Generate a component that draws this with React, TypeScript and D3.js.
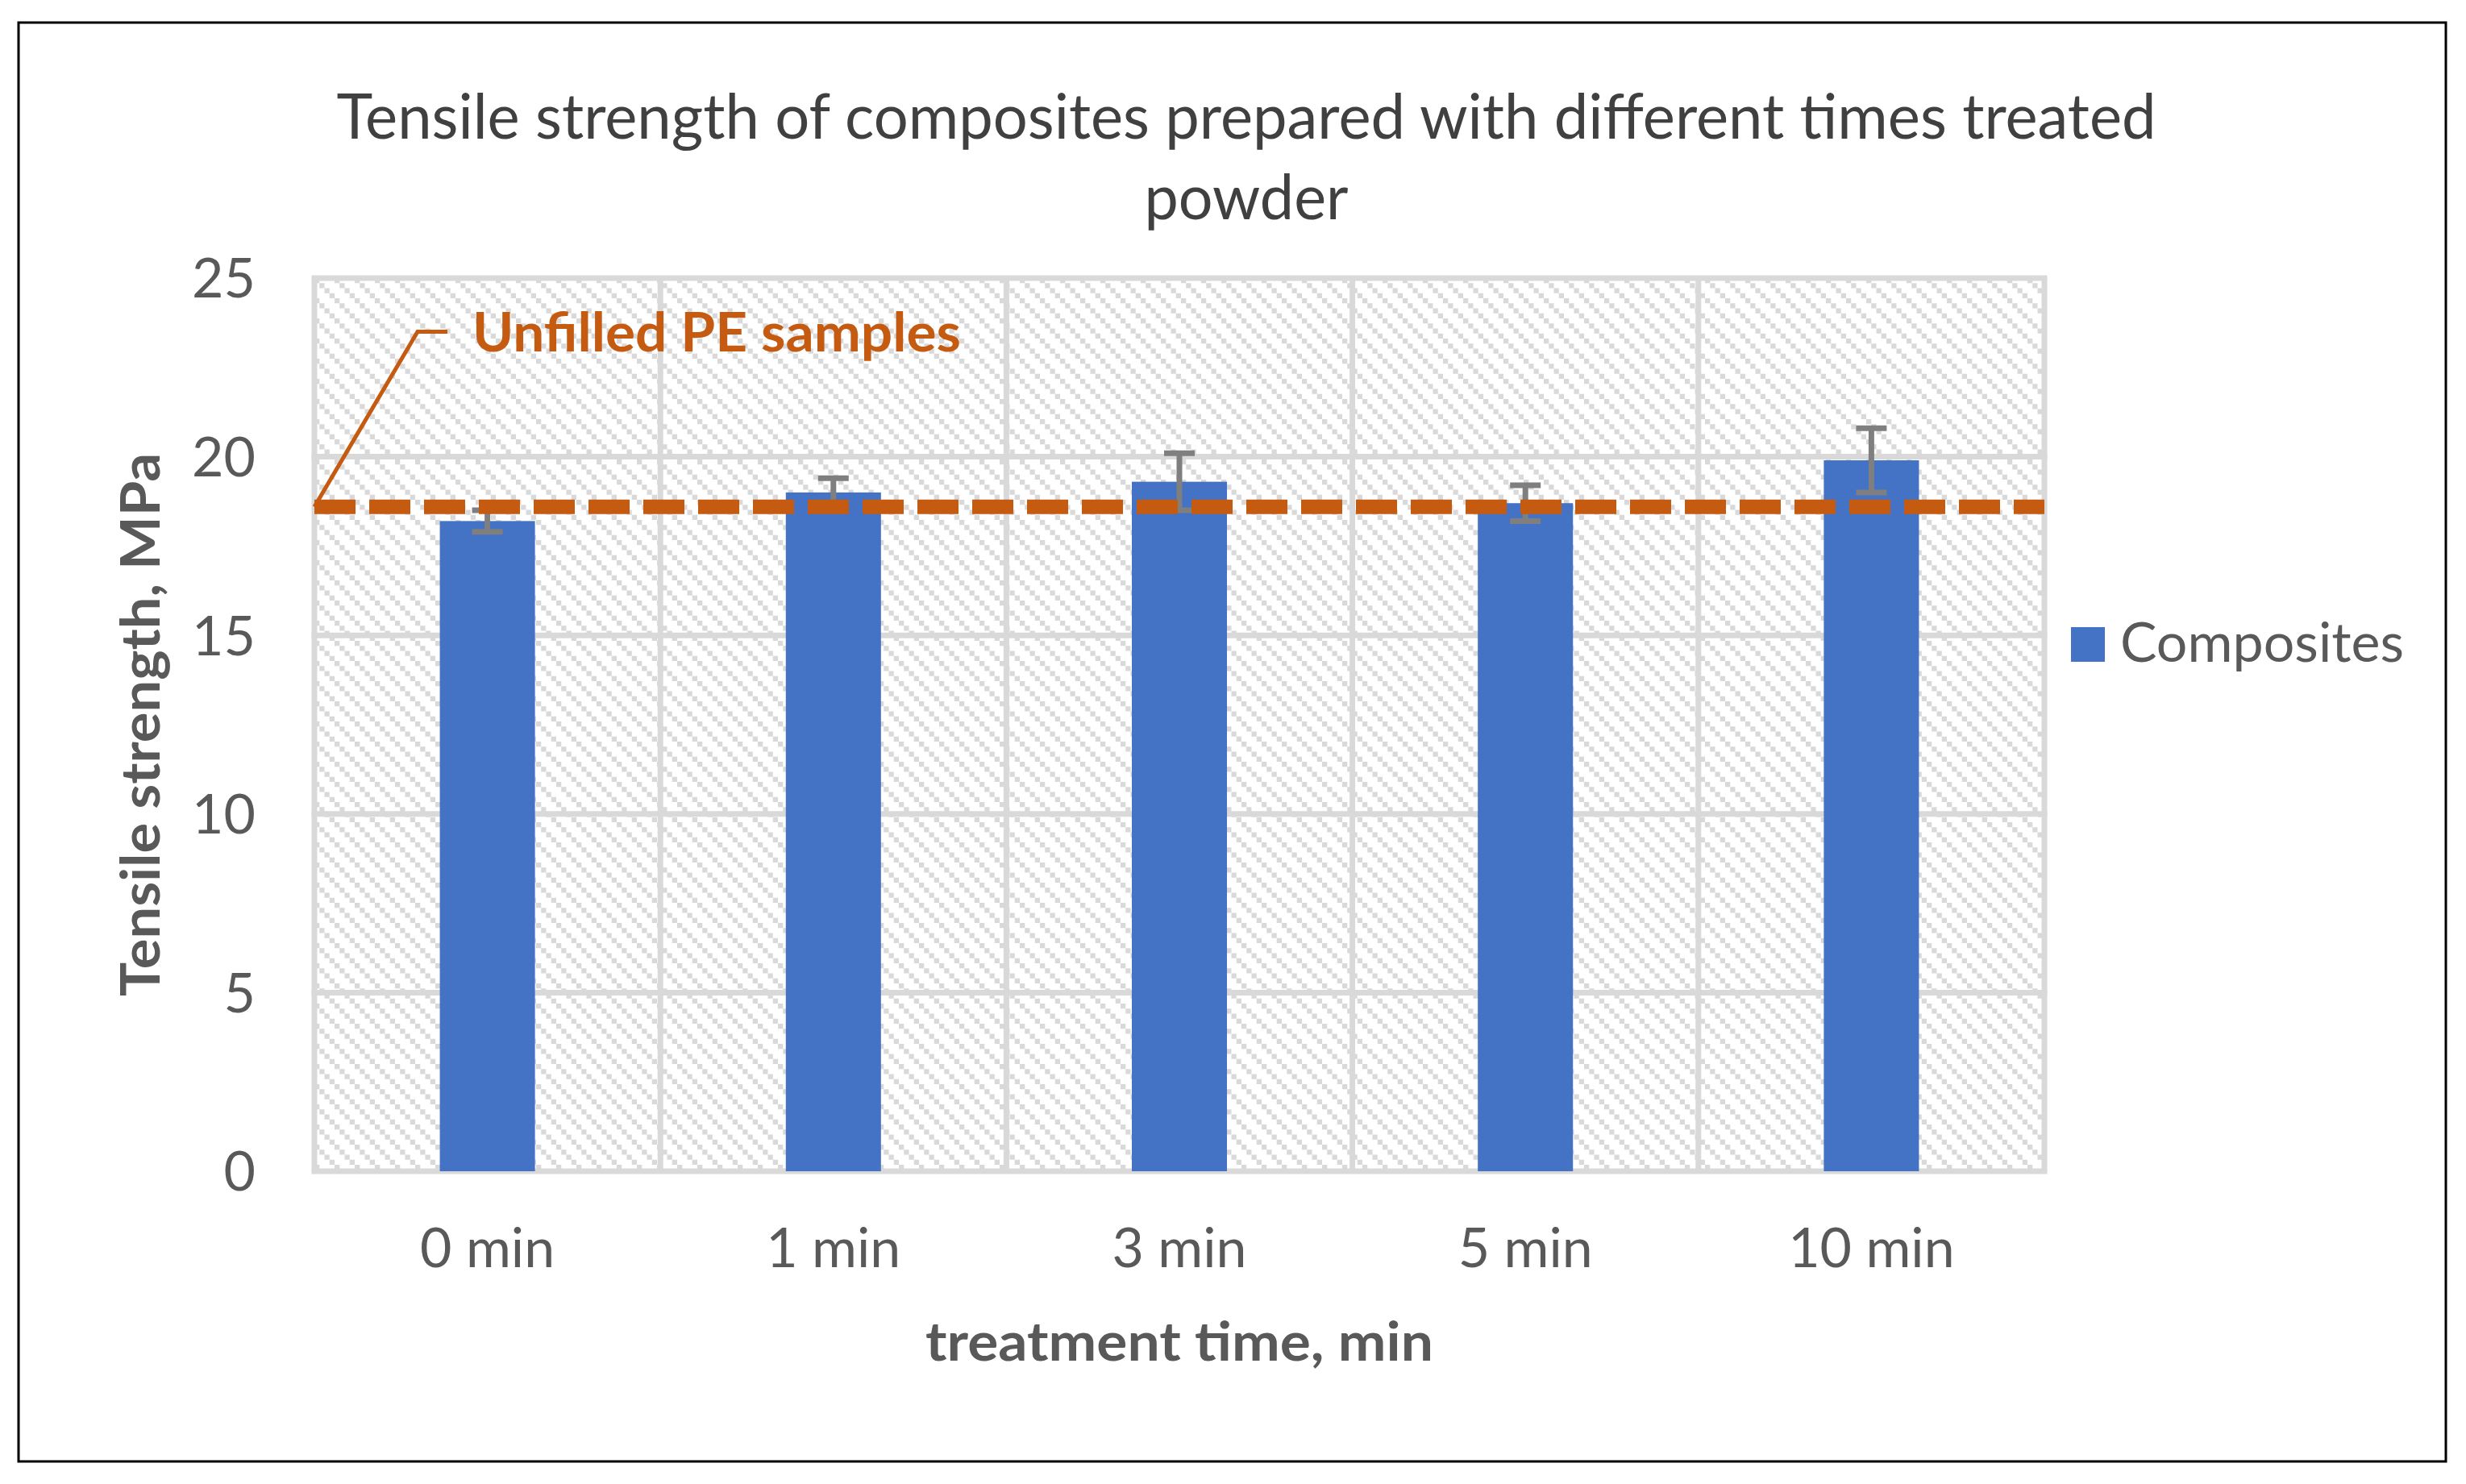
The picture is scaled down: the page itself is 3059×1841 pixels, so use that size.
import React, {useEffect, useRef} from "react";
import * as d3 from "d3";

// chart data
const categories = ["0 min", "1 min", "3 min", "5 min", "10 min"];
const strength = [18.2, 19.0, 19.3, 18.7, 19.9];
const strengthError = [0.3, 0.4, 0.8, 0.5, 0.9];
const unfilledPE = 18.6;
const yTicks = [0, 5, 10, 15, 20, 25];
const seriesName = "Composites";
const referenceLabel = "Unfilled PE samples";
const titleLines = ["Tensile strength of composites prepared with different times treated", "powder"];
const xTitle = "treatment time, min";
const yTitle = "Tensile strength, MPa";

const App: React.FC = () => {
    const svgRef = useRef<SVGSVGElement | null>(null);

    useEffect(() => {
        document.body.style.margin = "0";
        document.body.style.overflow = "hidden";
        if (!svgRef.current) return;

        const svg = d3.select(svgRef.current);
        svg.selectAll("*").remove();

        const width = 3059;
        const height = 1841;
        const plot = {left: 390, right: 2536, top: 345, bottom: 1453};
        const font = "Lato, 'Open Sans', sans-serif";
        const grid = "#D9D9D9";
        const textGrey = "#595959";
        const orange = "#C55A11";

        const x = d3
            .scaleBand()
            .domain(categories)
            .range([plot.left, plot.right])
            .paddingInner(0.725)
            .paddingOuter(0.3625);

        const xEdge = d3
            .scaleLinear()
            .domain([0, categories.length])
            .range([plot.left, plot.right]);

        const y = d3
            .scaleLinear()
            .domain([0, 25])
            .range([plot.bottom, plot.top]);

        svg.append("rect")
            .attr("width", width)
            .attr("height", height)
            .attr("fill", "#fff");

        svg.append("rect")
            .attr("x", 23)
            .attr("y", 28)
            .attr("width", 3034 - 23)
            .attr("height", 1813 - 28)
            .attr("fill", "#fff")
            .attr("stroke", "#000")
            .attr("stroke-width", 3);

        // hatch pattern for the plot area
        const defs = svg.append("defs");
        const pat = defs.append("pattern")
            .attr("id", "hatch")
            .attr("patternUnits", "userSpaceOnUse")
            .attr("x", plot.left)
            .attr("y", plot.top)
            .attr("width", 25)
            .attr("height", 25);
        pat.append("rect").attr("width", 25).attr("height", 25).attr("fill", "#fff");
        d3.range(4).forEach((i) => {
            pat.append("rect")
                .attr("x", i * 6.25)
                .attr("y", i * 6.25)
                .attr("width", 6.25)
                .attr("height", 6.25)
                .attr("fill", grid);
        });

        svg.append("rect")
            .attr("x", plot.left)
            .attr("y", plot.top)
            .attr("width", plot.right - plot.left)
            .attr("height", plot.bottom - plot.top)
            .attr("fill", "url(#hatch)");

        // gridlines
        svg.append("g")
            .selectAll("line")
            .data(yTicks)
            .join("line")
            .attr("x1", plot.left - 3.5)
            .attr("x2", plot.right + 3.5)
            .attr("y1", (d) => y(d))
            .attr("y2", (d) => y(d))
            .attr("stroke", grid)
            .attr("stroke-width", 7);

        svg.append("g")
            .selectAll("line")
            .data(d3.range(categories.length + 1))
            .join("line")
            .attr("x1", (d) => xEdge(d))
            .attr("x2", (d) => xEdge(d))
            .attr("y1", plot.top)
            .attr("y2", plot.bottom)
            .attr("stroke", grid)
            .attr("stroke-width", 7);

        // bars
        svg.append("g")
            .selectAll("rect")
            .data(strength)
            .join("rect")
            .attr("x", (_, i) => x(categories[i]) || 0)
            .attr("y", (d) => y(d))
            .attr("width", x.bandwidth())
            .attr("height", (d) => plot.bottom - y(d))
            .attr("fill", "#4472C4");

        // error bars
        const err = svg.append("g").attr("stroke", "#7F7F7F").attr("stroke-width", 7);
        strength.forEach((v, i) => {
            const cx = (x(categories[i]) || 0) + x.bandwidth() / 2;
            const hi = y(v + strengthError[i]);
            const lo = y(v - strengthError[i]);
            err.append("line").attr("x1", cx).attr("x2", cx).attr("y1", hi).attr("y2", lo);
            err.append("line").attr("x1", cx - 19).attr("x2", cx + 19).attr("y1", hi).attr("y2", hi);
            err.append("line").attr("x1", cx - 19).attr("x2", cx + 19).attr("y1", lo).attr("y2", lo);
        });

        // reference line
        svg.append("line")
            .attr("x1", plot.left)
            .attr("x2", plot.right)
            .attr("y1", y(unfilledPE))
            .attr("y2", y(unfilledPE))
            .attr("stroke", orange)
            .attr("stroke-width", 18)
            .attr("stroke-dasharray", "51 17");

        const labelY = y(23.5);
        svg.append("path")
            .attr("d", d3.line()([
                [plot.left, y(unfilledPE)],
                [plot.left + 128, labelY],
                [plot.left + 165, labelY],
            ]))
            .attr("fill", "none")
            .attr("stroke", orange)
            .attr("stroke-width", 5);

        svg.append("text")
            .attr("x", plot.left + 196)
            .attr("y", labelY + 25)
            .attr("font-family", font)
            .attr("font-weight", "bold")
            .attr("font-size", 66)
            .attr("fill", orange)
            .attr("textLength", 606)
            .attr("lengthAdjust", "spacingAndGlyphs")
            .text(referenceLabel);

        // y tick labels
        svg.append("g")
            .selectAll("text")
            .data(yTicks)
            .join("text")
            .attr("x", 317)
            .attr("y", (d) => y(d))
            .attr("dy", "0.36em")
            .attr("text-anchor", "end")
            .attr("font-family", font)
            .attr("font-size", 68)
            .attr("fill", textGrey)
            .text((d) => d);

        // x tick labels
        svg.append("g")
            .selectAll("text")
            .data(categories)
            .join("text")
            .attr("x", (d) => (x(d) || 0) + x.bandwidth() / 2)
            .attr("y", 1572)
            .attr("text-anchor", "middle")
            .attr("font-family", font)
            .attr("font-size", 68)
            .attr("fill", textGrey)
            .text((d) => d);

        // title
        svg.append("g")
            .selectAll("text")
            .data(titleLines)
            .join("text")
            .attr("x", 1546)
            .attr("y", (_, i) => 172 + i * 100)
            .attr("text-anchor", "middle")
            .attr("font-family", font)
            .attr("font-size", 77)
            .attr("fill", "#404040")
            .attr("textLength", (_, i) => (i === 0 ? 2257 : 253))
            .attr("lengthAdjust", "spacingAndGlyphs")
            .text((d) => d);

        // axis titles
        svg.append("text")
            .attr("x", (plot.left + plot.right) / 2)
            .attr("y", 1688)
            .attr("text-anchor", "middle")
            .attr("font-family", font)
            .attr("font-weight", "bold")
            .attr("font-size", 66)
            .attr("fill", textGrey)
            .attr("textLength", 630)
            .attr("lengthAdjust", "spacingAndGlyphs")
            .text(xTitle);

        svg.append("text")
            .attr("transform", `translate(198,${(plot.top + plot.bottom) / 2}) rotate(-90)`)
            .attr("text-anchor", "middle")
            .attr("font-family", font)
            .attr("font-weight", "bold")
            .attr("font-size", 66)
            .attr("fill", textGrey)
            .attr("textLength", 674)
            .attr("lengthAdjust", "spacingAndGlyphs")
            .text(yTitle);

        // legend
        svg.append("rect")
            .attr("x", 2569)
            .attr("y", 778)
            .attr("width", 42)
            .attr("height", 43)
            .attr("fill", "#4472C4");

        svg.append("text")
            .attr("x", 2630)
            .attr("y", 821)
            .attr("font-family", font)
            .attr("font-size", 68)
            .attr("fill", textGrey)
            .attr("textLength", 352)
            .attr("lengthAdjust", "spacingAndGlyphs")
            .text(seriesName);
    }, []);

    return (
        <svg
            ref={svgRef}
            width={3059}
            height={1841}
            viewBox="0 0 3059 1841"
            style={{position: "absolute", left: 0, top: 0, display: "block"}}
        ></svg>
    );
};

export default App;
